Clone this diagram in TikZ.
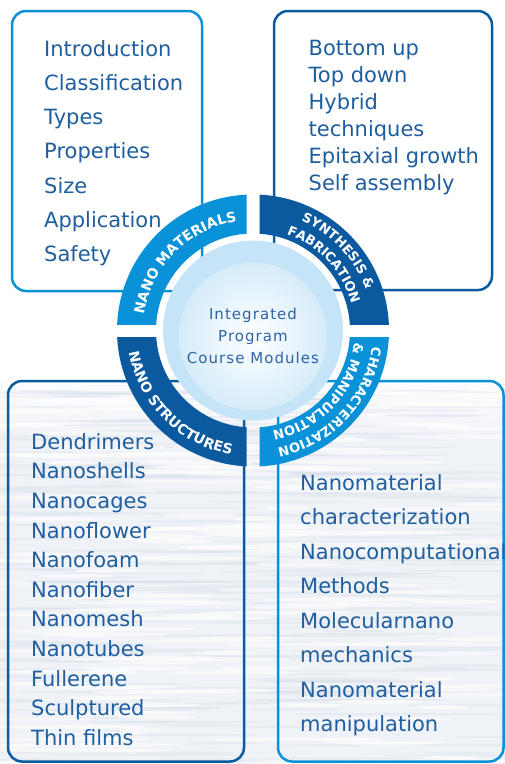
\documentclass[tikz,border=0pt]{standalone}
\usepackage{fontspec}
\usetikzlibrary{decorations.text}

\newfontfamily\listfont{DejaVu Sans}
\newfontfamily\hubfont{DejaVu Sans}[LetterSpace=7]
\newfontfamily\ringfont{DejaVu Sans Bold}

\definecolor{lightblue}{HTML}{0A92D8}
\definecolor{darkblue}{HTML}{0B5AA0}
\definecolor{textblue}{HTML}{1F5E9F}
\definecolor{hubblue}{HTML}{2E63A6}
\definecolor{hubpale}{HTML}{C6E4F7}
\definecolor{hubinner}{HTML}{D6ECFA}
\definecolor{waterbase}{HTML}{EFF2F7}
\definecolor{streakgrey}{HTML}{D6DCE8}

% fonts for the words on the ring
\newcommand\ringbig{\ringfont\fontsize{14}{14}\selectfont\color{white}}
\newcommand\ringsmall{\ringfont\fontsize{13}{13}\selectfont\color{white}}

\tikzset{
  listbox/.style={line width=2.5pt, rounded corners=14pt},
  item/.style={anchor=base west, inner sep=0pt, text=textblue,
    font=\listfont\fontsize{21}{25}\selectfont},
  ringlabel/.style 2 args={decorate, decoration={text along path,
    text align=center, text={|#1|#2}}}
}

\begin{document}
\begin{tikzpicture}[x=1pt, y=1pt]
	\useasboundingbox (0,0) rectangle (505,-764);

	% water background in the lower half
	\fill[white] (0,0) rectangle (505,-764);
	\shade[top color=white, bottom color=waterbase] (0,-370) rectangle (505,-440);
	\fill[waterbase] (0,-440) rectangle (505,-764);
	\pgfmathsetseed{11}
	\foreach \k in {1,...,260}{
		\pgfmathsetmacro\sx{505*rnd}
		\pgfmathsetmacro\sy{-390-375*rnd}
		\pgfmathsetmacro\sl{25+90*rnd}
		\fill[streakgrey, opacity=.35] (\sx,\sy) ellipse [x radius=\sl, y radius=1.1];
	}
	\foreach \k in {1,...,160}{
		\pgfmathsetmacro\sx{505*rnd}
		\pgfmathsetmacro\sy{-385-380*rnd}
		\pgfmathsetmacro\sl{20+70*rnd}
		\fill[white, opacity=.6] (\sx,\sy) ellipse [x radius=\sl, y radius=2];
	}

	% the four boxes
	\draw[listbox, lightblue] (12,-11) rectangle (202,-291);
	\draw[listbox, darkblue] (274,-11) rectangle (492,-290);
	\draw[listbox, darkblue] (8,-381) rectangle (244,-761.5);
	\draw[listbox, lightblue] (278,-381) rectangle (503.5,-761.5);

	\foreach \t [count=\i from 0] in {Introduction, Classification, Types,
		Properties, Size, Application, Safety}
		\node[item] (mat\i) at (44,-56-34.3*\i) {\t};
	\foreach \t [count=\i from 0] in {Bottom up, Top down, Hybrid,
		techniques, Epitaxial growth, Self assembly}
		\node[item] (syn\i) at (308.5,-55.7-26.9*\i) {\t};
	\foreach \t [count=\i from 0] in {Dendrimers, Nanoshells, Nanocages,
		Nanoflower, Nanofoam, Nanofiber, Nanomesh, Nanotubes, Fullerene,
		Sculptured, Thin films}
		\node[item] (str\i) at (31,-449.3-29.6*\i) {\t};
	\foreach \t [count=\i from 0] in {Nanomaterial, characterization,
		Nanocomputational, Methods, Molecularnano, mechanics, Nanomaterial,
		manipulation}
		\node[item] (cha\i) at (300,-490-34.5*\i) {\t};

	% ring of modules
	\begin{scope}[shift={(253,-330.5)}]
		\foreach \sx/\sy/\col in {-1/1/lightblue, 1/1/darkblue,
			-1/-1/darkblue, 1/-1/lightblue}{
			\begin{scope}
				\clip (6.5*\sx,6.5*\sy) rectangle (140*\sx,140*\sy);
				\fill[\col, even odd rule] (0,0) circle (136) (0,0) circle (97);
			\end{scope}
		}
		\path[ringlabel={\ringbig}{NANO MATERIALS}]
			(180:110) arc[start angle=180, end angle=90, radius=110];
		\path[ringlabel={\ringsmall}{SYNTHESIS {\&}}]
			(88:120) arc[start angle=88, end angle=-2, radius=120];
		\path[ringlabel={\ringsmall}{FABRICATION}]
			(88:102) arc[start angle=88, end angle=-2, radius=102];
		\path[ringlabel={\ringsmall}{CHARACTERIZATION}]
			(2:120) arc[start angle=2, end angle=-88, radius=120];
		\path[ringlabel={\ringsmall}{{\&} MANIPULATION}]
			(2:102) arc[start angle=2, end angle=-88, radius=102];
		\path[ringlabel={\ringbig}{NANO STRUCTURES}]
			(180:126) arc[start angle=180, end angle=270, radius=126];

		% hub
		\fill[hubpale] (0,0) circle (90);
		\shade[inner color=white, outer color=hubinner] (0,-6) circle (74);
		\node[align=center, text=hubblue, font=\hubfont\fontsize{15}{22}\selectfont]
			(hub) at (0,-5.5) {Integrated\\Program\\Course Modules};
	\end{scope}
\end{tikzpicture}
\end{document}
